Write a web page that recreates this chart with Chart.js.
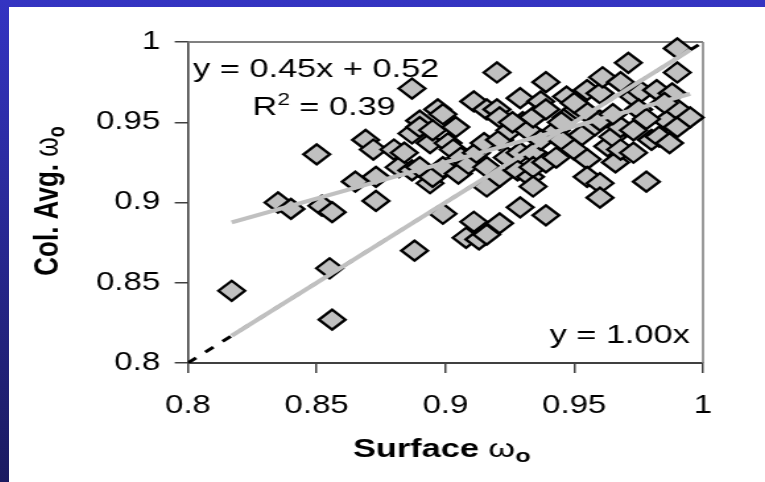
<!DOCTYPE html>
<html>
<head>
<meta charset="utf-8">
<script src="https://cdn.jsdelivr.net/npm/chart.js@4.4.1/dist/chart.umd.min.js"></script>
<style>
  html, body { margin: 0; padding: 0; }
  body {
    width: 765px; height: 482px; overflow: hidden; position: relative;
    background: linear-gradient(to bottom, #3434c2, #1b1b60);
  }
  #sheet { position: absolute; left: 9px; top: 7px; width: 756px; height: 475px; background: #fff; overflow: hidden; }
  /* chart is laid out narrow and stretched sideways like the slide copy */
  #wrap { width: 573px; height: 475px; transform: scaleX(1.3194); transform-origin: 0 0; }
</style>
</head>
<body>
<div id="sheet"><div id="wrap"><canvas id="omegaChart" width="573" height="475"></canvas></div></div>
<script>
// single scattering albedo: surface value vs column average
var surfaceW = [
  0.817, 0.835, 0.840, 0.850, 0.852, 0.856, 0.855, 0.856, 0.865, 0.869,
  0.872, 0.873, 0.873, 0.880, 0.882, 0.887, 0.887, 0.887, 0.888, 0.884,
  0.890, 0.890, 0.890, 0.894, 0.894, 0.895, 0.895, 0.897, 0.899, 0.899,
  0.899, 0.901, 0.903, 0.904, 0.905, 0.906, 0.908, 0.909, 0.911, 0.911,
  0.912, 0.913, 0.915, 0.916, 0.916, 0.916, 0.916, 0.920, 0.920, 0.921,
  0.921, 0.921, 0.921, 0.924, 0.925, 0.928, 0.929, 0.929, 0.929, 0.930,
  0.932, 0.933, 0.934, 0.934, 0.934, 0.934, 0.937, 0.937, 0.939, 0.939,
  0.939, 0.939, 0.943, 0.943, 0.945, 0.947, 0.947, 0.950, 0.951, 0.953,
  0.955, 0.955, 0.955, 0.955, 0.958, 0.960, 0.960, 0.960, 0.960, 0.961,
  0.963, 0.965, 0.966, 0.968, 0.968, 0.968, 0.971, 0.973, 0.973, 0.973,
  0.976, 0.978, 0.980, 0.982, 0.983, 0.986, 0.987, 0.988, 0.990, 0.990,
  0.990, 0.990, 0.995, 0.965, 0.975, 0.945, 0.926, 0.950, 0.985, 0.978
]
var colAvgW = [
  0.845, 0.900, 0.896, 0.930, 0.898, 0.894, 0.859, 0.827, 0.913, 0.939,
  0.933, 0.916, 0.901, 0.933, 0.922, 0.920, 0.971, 0.943, 0.870, 0.931,
  0.951, 0.947, 0.922, 0.912, 0.937, 0.945, 0.916, 0.958, 0.955, 0.893,
  0.922, 0.937, 0.933, 0.947, 0.918, 0.928, 0.878, 0.924, 0.963, 0.888,
  0.931, 0.877, 0.937, 0.958, 0.922, 0.910, 0.880, 0.981, 0.958, 0.953,
  0.939, 0.916, 0.887, 0.928, 0.945, 0.920, 0.965, 0.931, 0.897, 0.950,
  0.945, 0.916, 0.953, 0.931, 0.922, 0.910, 0.963, 0.939, 0.975, 0.958,
  0.925, 0.892, 0.928, 0.945, 0.939, 0.966, 0.953, 0.933, 0.958, 0.942,
  0.970, 0.956, 0.927, 0.916, 0.948, 0.968, 0.951, 0.912, 0.903, 0.978,
  0.935, 0.941, 0.925, 0.975, 0.947, 0.933, 0.987, 0.966, 0.945, 0.931,
  0.969, 0.913, 0.939, 0.970, 0.941, 0.951, 0.937, 0.968, 0.996, 0.981,
  0.958, 0.947, 0.953, 0.955, 0.958, 0.950, 0.950, 0.962, 0.962, 0.952
]

var xTicks = [0.8, 0.85, 0.9, 0.95, 1]
var yTicks = [0.8, 0.85, 0.9, 0.95, 1]
var xTickLabels = ["0.8", "0.85", "0.9", "0.95", "1"]
var yTickLabels = ["0.8", "0.85", "0.9", "0.95", "1"]

// fitted lines as printed on the chart
var linFit = { slope: 0.45, intercept: 0.52, r2: 0.39 }
var zeroFit = { slope: 1.00 }

var FONT = "'Liberation Sans', Arial, sans-serif"

var points = surfaceW.map(function (x, i) { return { x: x, y: colAvgW[i] } })
var xLo = Math.min.apply(null, surfaceW)
var xHi = Math.max.apply(null, surfaceW)

// draws a run of text pieces (for sub/superscripts)
function drawRuns(ctx, runs, x, y, align) {
  var total = 0
  runs.forEach(function (r) { ctx.font = r.font; r.w = ctx.measureText(r.text).width; total += r.w })
  var cx = align === "center" ? x - total / 2 : align === "right" ? x - total : x
  ctx.textAlign = "left"
  ctx.textBaseline = "alphabetic"
  runs.forEach(function (r) {
    ctx.font = r.font
    ctx.fillText(r.text, cx, y + (r.dy || 0))
    cx += r.w
  })
}

var decor = {
  id: "decor",
  beforeDatasetsDraw: function (chart) {
    var ctx = chart.ctx, a = chart.chartArea
    ctx.save()
    ctx.strokeStyle = "#808080"
    ctx.lineWidth = 2
    ctx.beginPath()
    ctx.moveTo(a.left, a.top)
    ctx.lineTo(a.right, a.top)
    ctx.stroke()
    ctx.lineWidth = 1.6
    ctx.beginPath()
    ctx.moveTo(a.right, a.top)
    ctx.lineTo(a.right, a.bottom)
    ctx.stroke()
    ctx.restore()
  },
  afterDraw: function (chart) {
    var ctx = chart.ctx, a = chart.chartArea
    ctx.save()
    ctx.fillStyle = "#000"

    // axis titles
    drawRuns(ctx, [
      { text: "Surface ", font: "bold 26px " + FONT },
      { text: "ω", font: "26px " + FONT },
      { text: "o", font: "bold 19px " + FONT, dy: 5 }
    ], 328, 450, "center")

    ctx.save()
    ctx.translate(37, 194)
    ctx.rotate(-Math.PI / 2)
    drawRuns(ctx, [
      { text: "Col. Avg. ", font: "bold 26px " + FONT },
      { text: "ω", font: "25px " + FONT },
      { text: "o", font: "bold 18px " + FONT, dy: 5 }
    ], 0, 0, "center")
    ctx.restore()

    // fit equations
    drawRuns(ctx, [
      { text: "y = " + linFit.slope.toFixed(2) + "x + " + linFit.intercept.toFixed(2), font: "26px " + FONT }
    ], a.left + 4, 70, "left")
    drawRuns(ctx, [
      { text: "R", font: "26px " + FONT },
      { text: "2", font: "17px " + FONT, dy: -10 },
      { text: " = " + linFit.r2.toFixed(2), font: "26px " + FONT }
    ], a.left + 49, 108, "left")
    drawRuns(ctx, [
      { text: "y = " + zeroFit.slope.toFixed(2) + "x", font: "26px " + FONT }
    ], a.right - 10, 336, "right")
    ctx.restore()
  }
}

var ctx = document.getElementById("omegaChart").getContext("2d")

var chart = new Chart(ctx, {
  type: "scatter",
  data: {
    datasets: [
      {
        // least squares fit
        type: "line",
        data: [{ x: xLo, y: linFit.slope * xLo + linFit.intercept }, { x: xHi, y: linFit.slope * xHi + linFit.intercept }],
        borderColor: "#c0c0c0",
        borderWidth: 4,
        pointRadius: 0,
        fill: false,
      },
      {
        // fit through the origin
        type: "line",
        data: [{ x: xLo, y: zeroFit.slope * xLo }, { x: xHi, y: zeroFit.slope * xHi }],
        borderColor: "#c0c0c0",
        borderWidth: 4,
        pointRadius: 0,
        fill: false,
      },
      {
        data: points,
        pointStyle: "rectRot",
        pointRadius: 10,
        pointBackgroundColor: "#c0c0c0",
        pointBorderColor: "#000",
        pointBorderWidth: 2.3,
        clip: false,
      },
      {
        // 1:1 line
        type: "line",
        data: [{ x: xTicks[0], y: yTicks[0] }, { x: xTicks[xTicks.length - 1], y: yTicks[yTicks.length - 1] }],
        borderColor: "#000",
        borderWidth: 3,
        borderDash: [8, 9],
        pointRadius: 0,
        fill: false,
      },
    ],
  },
  options: {
    responsive: false,
    animation: false,
    events: [],
    layout: { padding: { left: 0, top: 35, right: 47, bottom: 0 } },
    plugins: {
      legend: { display: false },
      tooltip: { enabled: false },
    },
    scales: {
      x: {
        type: "linear",
        min: xTicks[0],
        max: xTicks[xTicks.length - 1],
        afterBuildTicks: function (s) { s.ticks = xTicks.map(function (v) { return { value: v } }) },
        afterFit: function (s) { s.height = 119 },
        border: { color: "#404040", width: 2 },
        grid: { drawOnChartArea: false, drawTicks: true, tickLength: 10, color: "#404040", lineWidth: 1.5 },
        ticks: {
          autoSkip: false,
          maxRotation: 0,
          padding: 18,
          color: "#000",
          font: { family: FONT, size: 25 },
          callback: function (v, i) { return xTickLabels[i] },
        },
      },
      y: {
        type: "linear",
        min: yTicks[0],
        max: yTicks[yTicks.length - 1],
        afterBuildTicks: function (s) { s.ticks = yTicks.map(function (v) { return { value: v } }) },
        afterFit: function (s) { s.width = 135.6 },
        border: { color: "#404040", width: 1.6 },
        grid: { drawOnChartArea: false, drawTicks: true, tickLength: 10, color: "#404040", lineWidth: 1.5 },
        ticks: {
          autoSkip: false,
          padding: 11,
          color: "#000",
          font: { family: FONT, size: 25 },
          callback: function (v, i) { return yTickLabels[i] },
        },
      },
    },
  },
  plugins: [decor],
})
</script>
</body>
</html>
